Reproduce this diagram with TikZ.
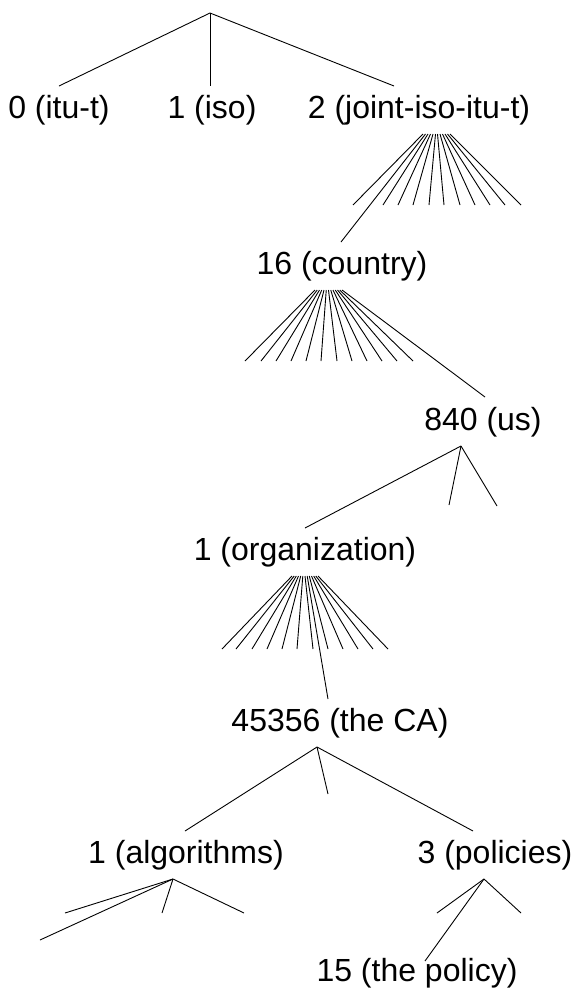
\documentclass[tikz,border=0pt]{standalone}
\usepackage{fontspec}
\setmainfont{Liberation Sans}
\usepackage{tikz}
\usetikzlibrary{calc}
\newcommand{\wirecolor}{black}
\newcommand{\wire}{0.9pt}
\newcommand{\oidfont}{\fontsize{32}{38}\selectfont}

\begin{document}
\begin{tikzpicture}[x=1pt, y=-1pt, oid/.style={inner sep=0pt, font=\oidfont}]
\useasboundingbox (0,0) rectangle (579,988);
\coordinate (root) at (210,13);
\node[oid] (itu) at (59,110) {0 (itu-t)};
\node[oid] (iso) at (212,110) {1 (iso)};
\node[oid] (jt) at (419,110) {2 (joint-iso-itu-t)};
\node[oid] (cty) at (342,266) {16 (country)};
\node[oid] (us) at (483,422) {840 (us)};
\node[oid] (org) at (305,552) {1 (organization)};
\node[oid] (ca) at (340,723) {45356 (the CA)};
\node[oid] (alg) at (186,855) {1 (algorithms)};
\node[oid] (pol) at (495,855) {3 (policies)};
\node[oid] (thepol) at (417,973) {15 (the policy)};
%root
\draw[\wirecolor] [line width = \wire] (root) -- ($(itu)+(0,-24)$);
\draw[\wirecolor] [line width = \wire] (root) -- ($(iso)+(-2,-24)$);
\draw[\wirecolor] [line width = \wire] (root) -- ($(jt)+(-25,-24)$);
%joint-iso-itu-t
\draw[\wirecolor] [line width = \wire] ($(jt)+(4,24)$) -- ($(jt)+(-66,95)$);
\draw[\wirecolor] [line width = \wire] ($(jt)+(6.5,24)$) -- ($(cty)+(-1,-24)$);
\draw[\wirecolor] [line width = \wire] ($(jt)+(9,24)$) -- ($(jt)+(-36,95)$);
\draw[\wirecolor] [line width = \wire] ($(jt)+(11.5,24)$) -- ($(jt)+(-21,95)$);
\draw[\wirecolor] [line width = \wire] ($(jt)+(14,24)$) -- ($(jt)+(-6,95)$);
\draw[\wirecolor] [line width = \wire] ($(jt)+(16.5,24)$) -- ($(jt)+(10,95)$);
\draw[\wirecolor] [line width = \wire] ($(jt)+(18.5,24)$) -- ($(jt)+(25,95)$);
\draw[\wirecolor] [line width = \wire] ($(jt)+(21,24)$) -- ($(jt)+(41,95)$);
\draw[\wirecolor] [line width = \wire] ($(jt)+(23.5,24)$) -- ($(jt)+(56,95)$);
\draw[\wirecolor] [line width = \wire] ($(jt)+(26,24)$) -- ($(jt)+(71,95)$);
\draw[\wirecolor] [line width = \wire] ($(jt)+(28.5,24)$) -- ($(jt)+(86,95)$);
\draw[\wirecolor] [line width = \wire] ($(jt)+(31,24)$) -- ($(jt)+(102,95)$);
%country
\draw[\wirecolor] [line width = \wire] ($(cty)+(-27,24)$) -- ($(cty)+(-97,95)$);
\draw[\wirecolor] [line width = \wire] ($(cty)+(-24.75,24)$) -- ($(cty)+(-81,95)$);
\draw[\wirecolor] [line width = \wire] ($(cty)+(-22.5,24)$) -- ($(cty)+(-66,95)$);
\draw[\wirecolor] [line width = \wire] ($(cty)+(-20.25,24)$) -- ($(cty)+(-51,95)$);
\draw[\wirecolor] [line width = \wire] ($(cty)+(-18,24)$) -- ($(cty)+(-36,95)$);
\draw[\wirecolor] [line width = \wire] ($(cty)+(-15.75,24)$) -- ($(cty)+(-21,95)$);
\draw[\wirecolor] [line width = \wire] ($(cty)+(-13.5,24)$) -- ($(cty)+(-5,95)$);
\draw[\wirecolor] [line width = \wire] ($(cty)+(-11.25,24)$) -- ($(cty)+(10,95)$);
\draw[\wirecolor] [line width = \wire] ($(cty)+(-9,24)$) -- ($(cty)+(25,95)$);
\draw[\wirecolor] [line width = \wire] ($(cty)+(-6.75,24)$) -- ($(cty)+(40,95)$);
\draw[\wirecolor] [line width = \wire] ($(cty)+(-4.5,24)$) -- ($(cty)+(55,95)$);
\draw[\wirecolor] [line width = \wire] ($(cty)+(-2.25,24)$) -- ($(cty)+(71,95)$);
\draw[\wirecolor] [line width = \wire] ($(cty)+(0,24)$) -- ($(us)+(2,-25)$);
%us
\draw[\wirecolor] [line width = \wire] ($(us)+(-22,24)$) -- ($(org)+(0,-24)$);
\draw[\wirecolor] [line width = \wire] ($(us)+(-22,24)$) -- ($(us)+(-34,83)$);
\draw[\wirecolor] [line width = \wire] ($(us)+(-22,24)$) -- ($(us)+(14,84)$);
%organization
\draw[\wirecolor] [line width = \wire] ($(org)+(-13,24)$) -- ($(org)+(-83,97)$);
\draw[\wirecolor] [line width = \wire] ($(org)+(-10.8,24)$) -- ($(org)+(-69,97)$);
\draw[\wirecolor] [line width = \wire] ($(org)+(-8.7,24)$) -- ($(org)+(-53,97)$);
\draw[\wirecolor] [line width = \wire] ($(org)+(-6.5,24)$) -- ($(org)+(-38,97)$);
\draw[\wirecolor] [line width = \wire] ($(org)+(-4.3,24)$) -- ($(org)+(-23,97)$);
\draw[\wirecolor] [line width = \wire] ($(org)+(-2.2,24)$) -- ($(org)+(-8,97)$);
\draw[\wirecolor] [line width = \wire] ($(org)+(0,24)$) -- ($(org)+(8,97)$);
\draw[\wirecolor] [line width = \wire] ($(org)+(2.2,24)$) -- ($(ca)+(-12,-24)$);
\draw[\wirecolor] [line width = \wire] ($(org)+(4.3,24)$) -- ($(org)+(23,97)$);
\draw[\wirecolor] [line width = \wire] ($(org)+(6.5,24)$) -- ($(org)+(38,97)$);
\draw[\wirecolor] [line width = \wire] ($(org)+(8.7,24)$) -- ($(org)+(53,97)$);
\draw[\wirecolor] [line width = \wire] ($(org)+(10.8,24)$) -- ($(org)+(68,97)$);
\draw[\wirecolor] [line width = \wire] ($(org)+(13,24)$) -- ($(org)+(83,97)$);
%the CA
\draw[\wirecolor] [line width = \wire] ($(ca)+(-23,24)$) -- ($(alg)+(-1,-24)$);
\draw[\wirecolor] [line width = \wire] ($(ca)+(-23,24)$) -- ($(ca)+(-12,71)$);
\draw[\wirecolor] [line width = \wire] ($(ca)+(-23,24)$) -- ($(pol)+(-22,-24)$);
%algorithms
\draw[\wirecolor] [line width = \wire] ($(alg)+(-13,24)$) -- ($(alg)+(-121,58)$);
\draw[\wirecolor] [line width = \wire] ($(alg)+(-13,24)$) -- ($(alg)+(-146,85)$);
\draw[\wirecolor] [line width = \wire] ($(alg)+(-13,24)$) -- ($(alg)+(-24,58)$);
\draw[\wirecolor] [line width = \wire] ($(alg)+(-13,24)$) -- ($(alg)+(58,58)$);
%policies
\draw[\wirecolor] [line width = \wire] ($(pol)+(-11,24)$) -- ($(pol)+(-58,58)$);
\draw[\wirecolor] [line width = \wire] ($(pol)+(-11,24)$) -- ($(thepol)+(8,-12)$);
\draw[\wirecolor] [line width = \wire] ($(pol)+(-11,24)$) -- ($(pol)+(26,58)$);
\end{tikzpicture}
\end{document}
